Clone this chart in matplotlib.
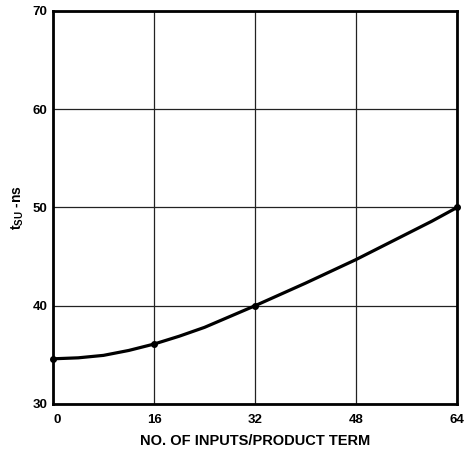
import matplotlib
matplotlib.use('Agg')
import matplotlib.pyplot as plt

plt.rcParams['font.family'] = ['Liberation Sans', 'DejaVu Sans']
plt.rcParams['mathtext.fontset'] = 'custom'
plt.rcParams['mathtext.bf'] = 'Liberation Sans:bold'
plt.rcParams['mathtext.rm'] = 'Liberation Sans'

# data
inputs = [0, 4, 8, 12, 16, 20, 24, 28, 32, 36, 40, 44, 48, 52, 56, 60, 64]
tsu = [34.6, 34.7, 34.95, 35.45, 36.1, 36.9, 37.8, 38.9, 40.0, 41.15, 42.3,
       43.5, 44.7, 46.0, 47.3, 48.6, 50.0]
marked_x = [0, 16, 32, 64]
marked_y = [34.6, 36.1, 40.0, 50.0]
x_ticks = [0, 16, 32, 48, 64]
y_ticks = [30, 40, 50, 60, 70]

fig = plt.figure(figsize=(4.67, 4.51), dpi=100, facecolor='white')
ax = fig.add_axes([53 / 467, 47 / 451, 404 / 467, 393 / 451])

ax.set_xlim(0, 64)
ax.set_ylim(30, 70)
ax.set_xticks(x_ticks)
ax.set_yticks(y_ticks)
ax.grid(True, color='#222222', linewidth=0.9)
ax.set_axisbelow(True)
ax.tick_params(length=0, labelsize=9.5)
ax.tick_params(axis='y', pad=4)
ax.tick_params(axis='x', pad=7)
for lab in ax.get_xticklabels() + ax.get_yticklabels():
    lab.set_fontweight('bold')
ax.get_xticklabels()[0].set_horizontalalignment('left')
for s in ax.spines.values():
    s.set_linewidth(2)
    s.set_color('black')

ax.plot(inputs, tsu, color='black', linewidth=2.3, solid_capstyle='round')
ax.plot(marked_x, marked_y, 'o', color='black', markersize=4, clip_on=False)

ax.set_xlabel('NO. OF INPUTS/PRODUCT TERM', fontsize=10.5, fontweight='bold', labelpad=6)
ax.set_ylabel(r'$\mathbf{t_{SU}}$ -ns', fontsize=10, fontweight='bold', labelpad=5)

fig.savefig('out.png', dpi=100)
